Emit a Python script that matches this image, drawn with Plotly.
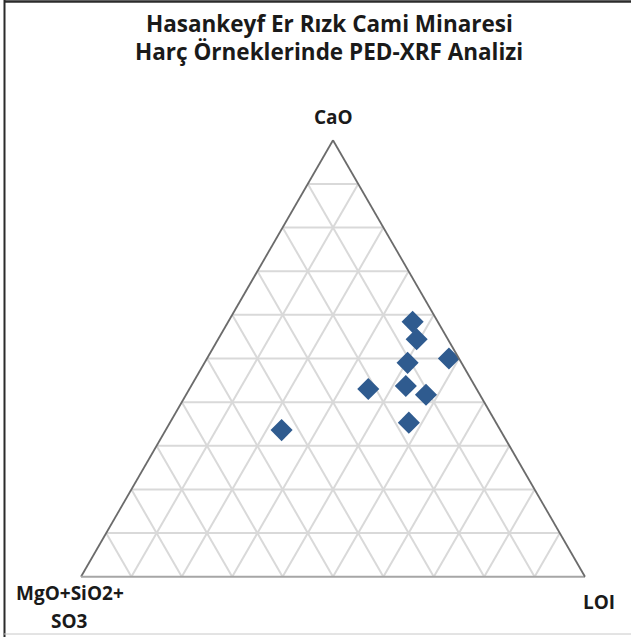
import plotly.graph_objects as go

# Sample compositions (%), one entry per mortar sample
cao = [58.4, 54.4, 50.0, 49.0, 43.0, 43.7, 41.7, 35.3, 33.6]
loi = [36.6, 39.4, 48.0, 40.3, 35.5, 42.6, 47.6, 47.4, 23.0]
mgo_sio2_so3 = [5.0, 6.2, 2.0, 10.7, 21.5, 13.7, 10.7, 17.3, 43.4]

title_lines = ["Hasankeyf Er Rızk Cami Minaresi", "Harç Örneklerinde PED-XRF Analizi"]
vertex_labels = {"a": "CaO", "b1": "MgO+SiO2+", "b2": "SO3", "c": "LOI"}

W, H = 631, 637
L, R, T, B = 81, 46, 140, 60
PW, PH = W - L - R, H - T - B


def px(x):
    return (x - L) / PW


def py(y):
    return (H - B - y) / PH


fig = go.Figure(
    go.Scatterternary(
        a=cao,
        b=mgo_sio2_so3,
        c=loi,
        mode="markers",
        marker=dict(symbol="diamond", size=17, color="#2f5b8f", line=dict(width=0)),
        hoverinfo="a+b+c",
    )
)

grid = "#d9d9d9"


def axis(linecolor):
    return dict(
        min=0,
        dtick=10,
        showgrid=True,
        gridcolor=grid,
        gridwidth=1.5,
        showline=True,
        linecolor=linecolor,
        linewidth=1.8,
        showticklabels=False,
        ticks="",
        title=dict(text=""),
    )


font_family = "'Open Sans', Lato, sans-serif"

annotations = [
    dict(x=px(329), y=py(24), text="<b>" + title_lines[0] + "</b>", font=dict(size=22.5)),
    dict(x=px(329), y=py(52), text="<b>" + title_lines[1] + "</b>", font=dict(size=22.5)),
    dict(x=px(333), y=py(117), text="<b>" + vertex_labels["a"] + "</b>", font=dict(size=19)),
    dict(x=px(70), y=py(593), text="<b>" + vertex_labels["b1"] + "</b>", font=dict(size=19)),
    dict(x=px(69), y=py(621), text="<b>" + vertex_labels["b2"] + "</b>", font=dict(size=19)),
    dict(x=px(599), y=py(602), text="<b>" + vertex_labels["c"] + "</b>", font=dict(size=19)),
]
for a in annotations:
    a.update(xref="paper", yref="paper", xanchor="center", yanchor="middle",
             showarrow=False)
    a["font"].update(family=font_family, color="#1a1a1a")

shapes = [
    # outer frame: dark top and left edges, faint bottom edge
    dict(type="line", x0=px(4), x1=px(631), y0=py(1.5), y1=py(1.5),
         line=dict(color="#2b2b2b", width=2.5)),
    dict(type="line", x0=px(4.5), x1=px(4.5), y0=py(0), y1=py(637),
         line=dict(color="#2b2b2b", width=2)),
    dict(type="line", x0=px(4), x1=px(631), y0=py(634), y1=py(634),
         line=dict(color="#c8c8c8", width=1)),
]
for s in shapes:
    s.update(xref="paper", yref="paper")

fig.update_layout(
    width=W,
    height=H,
    margin=dict(l=L, r=R, t=T, b=B, pad=0),
    paper_bgcolor="white",
    showlegend=False,
    ternary=dict(
        sum=100,
        domain=dict(x=[0, 1], y=[0, 1]),
        bgcolor="white",
        aaxis=axis("#6b6b6b"),
        baxis=axis("#a6a6a6"),
        caxis=axis("#6b6b6b"),
    ),
    annotations=annotations,
    shapes=shapes,
)

fig.write_html("out.html")
